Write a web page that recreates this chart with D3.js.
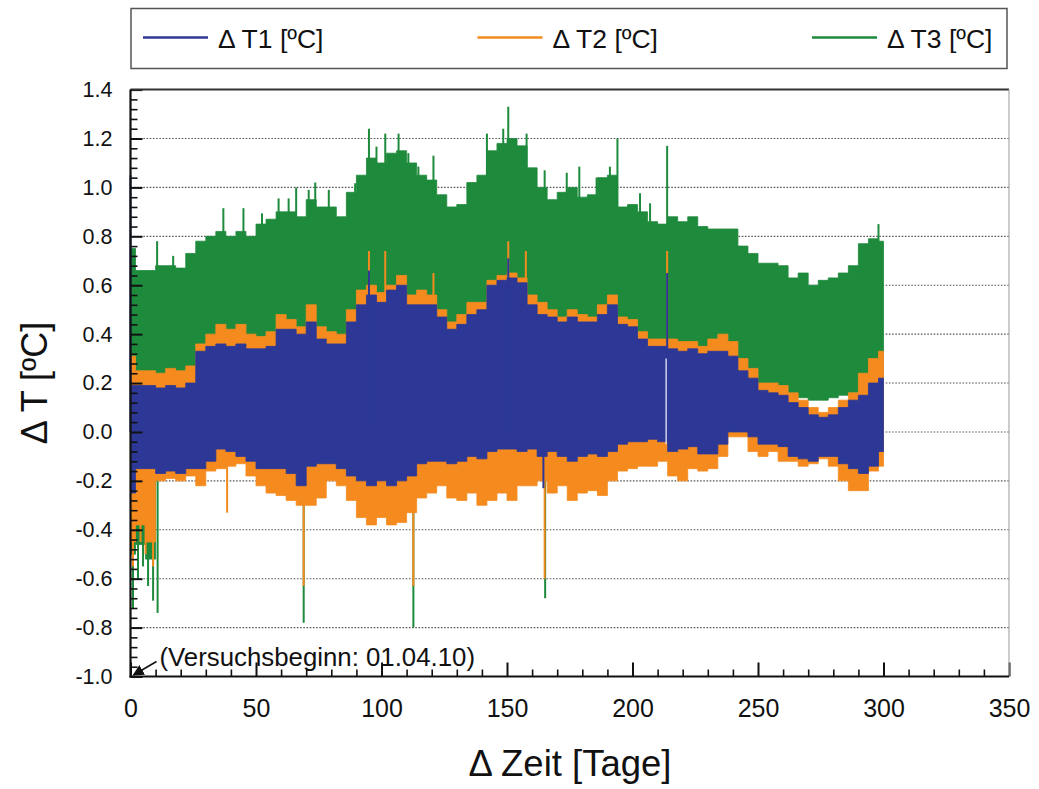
<!DOCTYPE html>
<html><head><meta charset="utf-8">
<script src="https://cdn.jsdelivr.net/npm/d3@7"></script>
<style>
body{margin:0;background:#fff}
svg{display:block}
text{font-family:"Liberation Sans",Arial,Helvetica,sans-serif;fill:#111}
</style></head>
<body><svg id="chart" width="1039" height="789"></svg>
<script>
// ---------- data ----------
const days = [0,4,8,12,16,20,24,28,32,36,40,44,48,52,56,60,64,68,72,76,80,84,88,92,96,100,104,108,112,116,120,124,128,132,136,140,144,148,152,156,160,164,168,172,176,180,184,188,192,196,200,204,208,212,216,220,224,228,232,236,240,244,248,252,256,260,264,268,272,276,280,284,288,292,296,300];

// ΔT1 band (upper / lower envelope of the dense oscillation)
const t1Hi = [0.19,0.19,0.19,0.18,0.19,0.18,0.20,0.33,0.35,0.36,0.35,0.36,0.34,0.34,0.35,0.42,0.42,0.40,0.45,0.38,0.36,0.36,0.45,0.52,0.56,0.53,0.58,0.60,0.52,0.52,0.52,0.47,0.42,0.44,0.48,0.50,0.60,0.62,0.63,0.61,0.52,0.48,0.47,0.45,0.47,0.45,0.45,0.48,0.52,0.44,0.43,0.38,0.35,0.35,0.34,0.33,0.34,0.32,0.33,0.33,0.31,0.25,0.22,0.17,0.16,0.15,0.12,0.10,0.07,0.06,0.07,0.10,0.13,0.15,0.20,0.22];
const t1Lo = [-0.25,-0.15,-0.15,-0.17,-0.16,-0.17,-0.15,-0.15,-0.12,-0.07,-0.08,-0.10,-0.12,-0.15,-0.15,-0.15,-0.17,-0.22,-0.14,-0.13,-0.13,-0.15,-0.18,-0.20,-0.22,-0.20,-0.22,-0.20,-0.18,-0.13,-0.12,-0.12,-0.13,-0.12,-0.10,-0.11,-0.08,-0.07,-0.07,-0.08,-0.07,-0.10,-0.08,-0.10,-0.12,-0.10,-0.09,-0.10,-0.08,-0.05,-0.04,-0.04,-0.03,-0.04,-0.08,-0.07,-0.06,-0.09,-0.09,-0.05,0.00,0.00,-0.02,-0.05,-0.05,-0.06,-0.10,-0.11,-0.12,-0.10,-0.10,-0.13,-0.15,-0.17,-0.14,-0.08];

// ΔT2 band
const t2Hi = [0.31,0.25,0.25,0.24,0.26,0.25,0.27,0.36,0.40,0.44,0.42,0.44,0.40,0.39,0.41,0.48,0.46,0.43,0.52,0.43,0.41,0.40,0.50,0.58,0.60,0.57,0.60,0.64,0.56,0.58,0.56,0.50,0.45,0.48,0.53,0.53,0.62,0.64,0.65,0.63,0.56,0.53,0.50,0.47,0.50,0.48,0.47,0.52,0.56,0.47,0.46,0.41,0.38,0.38,0.38,0.37,0.37,0.35,0.38,0.40,0.37,0.30,0.26,0.20,0.20,0.19,0.16,0.13,0.10,0.08,0.10,0.13,0.16,0.24,0.30,0.33];
const t2Lo = [-0.45,-0.38,-0.45,-0.20,-0.19,-0.20,-0.18,-0.22,-0.16,-0.15,-0.14,-0.13,-0.18,-0.22,-0.25,-0.26,-0.28,-0.30,-0.30,-0.27,-0.20,-0.22,-0.28,-0.35,-0.38,-0.35,-0.38,-0.37,-0.33,-0.27,-0.25,-0.22,-0.27,-0.28,-0.25,-0.30,-0.28,-0.25,-0.28,-0.22,-0.22,-0.20,-0.25,-0.22,-0.28,-0.25,-0.24,-0.26,-0.20,-0.16,-0.15,-0.14,-0.14,-0.12,-0.18,-0.20,-0.15,-0.16,-0.15,-0.10,-0.02,-0.02,-0.08,-0.10,-0.08,-0.12,-0.12,-0.14,-0.13,-0.11,-0.14,-0.20,-0.24,-0.24,-0.16,-0.14];

// ΔT3 band
const t3Hi = [0.75,0.66,0.66,0.68,0.68,0.67,0.73,0.78,0.80,0.82,0.80,0.82,0.80,0.85,0.87,0.90,0.90,0.88,0.95,0.92,0.92,0.88,0.98,1.05,1.12,1.10,1.14,1.15,1.10,1.05,1.03,0.97,0.92,0.93,1.02,1.05,1.15,1.18,1.20,1.17,1.08,1.00,0.95,0.98,1.00,0.96,0.97,1.04,1.05,0.92,0.93,0.90,0.86,0.85,0.88,0.86,0.88,0.84,0.83,0.83,0.83,0.76,0.73,0.69,0.69,0.68,0.63,0.65,0.60,0.62,0.63,0.65,0.68,0.77,0.79,0.78];
const t3Lo = [-0.50,-0.46,-0.52,0.02,0.03,0.02,0.05,0.12,0.15,0.16,0.15,0.16,0.14,0.14,0.15,0.20,0.20,0.18,0.22,0.18,0.16,0.16,0.22,0.28,0.30,0.28,0.32,0.33,0.28,0.28,0.27,0.24,0.20,0.22,0.25,0.26,0.32,0.34,0.35,0.33,0.28,0.25,0.24,0.22,0.24,0.22,0.22,0.25,0.28,0.22,0.21,0.18,0.16,0.16,0.15,0.15,0.16,0.14,0.15,0.15,0.14,0.12,0.12,0.17,0.17,0.16,0.15,0.14,0.13,0.13,0.14,0.15,0.16,0.14,0.15,0.16];

// single-sample spikes
const t3SpikeDays = [1,3,5,7,9,10.8,10.6,17,37,45,52.4,59,63,66,69,71,73.6,79,89.5,95,98,101.5,106.8,110.7,112.7,114.7,120.7,142,148.5,150.5,157.8,165,165.2,173.8,178.8,185.7,191,194,203,207,213.8,298];
const t3SpikeVals = [-0.72,-0.60,-0.55,-0.63,-0.69,-0.74,0.78,0.72,0.915,0.915,0.894,0.955,0.955,1.0,-0.78,0.99,1.02,0.99,1.017,1.24,1.167,1.22,1.22,1.14,-0.80,1.085,1.13,1.22,1.24,1.33,1.22,1.07,-0.68,1.06,1.085,1.04,1.085,1.2,0.976,0.935,1.17,0.85];
const t2SpikeDays = [1,4,6,9,38.5,69,95,101.5,112.7,120.7,150.5,157.5,165,213.8];
const t2SpikeVals = [-0.55,-0.45,-0.50,-0.55,-0.33,-0.63,0.74,0.74,-0.63,0.65,0.78,0.74,-0.60,0.74];
const t1SpikeDays = [0,95,150.5,164.5,213.8];
const t1SpikeVals = [1.05,0.66,0.71,-0.23,0.65];
// data gap inside ΔT1 band
const t1GapDay = 213.4, t1GapHi = 0.30, t1GapLo = -0.05;

const seriesNames = ["\u0394 T1 [\u00baC]","\u0394 T2 [\u00baC]","\u0394 T3 [\u00baC]"];
const seriesColors = ["#2c3796","#f58b1f","#1e8a3c"];
const yTicks = [-1.0,-0.8,-0.6,-0.4,-0.2,0.0,0.2,0.4,0.6,0.8,1.0,1.2,1.4];
const xTicks = [0,50,100,150,200,250,300,350];
const xTitle = "\u0394 Zeit [Tage]";
const yTitle = "\u0394 T [\u00baC]";
const note = "(Versuchsbeginn: 01.04.10)";

// ---------- drawing ----------
const svg = d3.select("#chart");
const L = 130.5, R = 1009, T = 89.6, B = 676.5;
const x = d3.scaleLinear().domain([0,350]).range([L,R]);
const y = d3.scaleLinear().domain([-1.0,1.4]).range([B,T]);

// gridlines
svg.append("g").selectAll("line").data(yTicks.filter(v=>v>-1 && v<1.4)).join("line")
  .attr("x1",L).attr("x2",R).attr("y1",d=>y(d)).attr("y2",d=>y(d))
  .attr("stroke","#555").attr("stroke-width",1.1).attr("stroke-dasharray","1.6,1.6");

const bands = [
  {hi:t3Hi, lo:t3Lo, sd:t3SpikeDays, sv:t3SpikeVals, base:0.3, c:seriesColors[2]},
  {hi:t2Hi, lo:t2Lo, sd:t2SpikeDays, sv:t2SpikeVals, base:0.0, c:seriesColors[1]},
  {hi:t1Hi, lo:t1Lo, sd:t1SpikeDays, sv:t1SpikeVals, base:0.0, c:seriesColors[0]}
];
const plot = svg.append("g");
bands.forEach(b=>{
  const rows = days.map((d,i)=>({d, hi:b.hi[i], lo:b.lo[i]}));
  const area = d3.area().curve(d3.curveStep)
    .x(r=>x(r.d)).y0(r=>y(r.lo)).y1(r=>y(r.hi));
  plot.append("path").datum(rows).attr("d",area).attr("fill",b.c).attr("stroke",b.c).attr("stroke-width",0.8);
  plot.append("g").selectAll("line").data(b.sd.map((d,i)=>({d,v:b.sv[i]}))).join("line")
    .attr("x1",s=>x(s.d)).attr("x2",s=>x(s.d))
    .attr("y1",y(b.base)).attr("y2",s=>y(s.v))
    .attr("stroke",b.c).attr("stroke-width",2);
});
plot.append("line").attr("x1",x(t1GapDay)).attr("x2",x(t1GapDay))
  .attr("y1",y(t1GapHi)).attr("y2",y(t1GapLo)).attr("stroke","#e8e8f4").attr("stroke-width",1.3);

// axes (inside ticks)
const fmt = d=>d.toFixed(1);
const yMinor = d3.range(-1.0,1.4001,0.04).filter(v=>Math.abs(Math.round(v*5)-v*5)>0.01);
const xMinor = d3.range(0,351,10).filter(v=>v%50!==0);

const gy = svg.append("g").attr("transform",`translate(${L},0)`)
  .call(d3.axisLeft(y).tickValues(yTicks).tickSize(-12).tickPadding(18).tickFormat(fmt));
gy.select(".domain").remove();
gy.selectAll("line").attr("stroke","#111").attr("stroke-width",2);
gy.selectAll("text").attr("font-size",21.5).attr("fill","#111").style("font-family","Liberation Sans, Arial, sans-serif");
const gym = svg.append("g").attr("transform",`translate(${L},0)`)
  .call(d3.axisLeft(y).tickValues(yMinor).tickSize(-7).tickFormat(""));
gym.select(".domain").remove();
gym.selectAll("line").attr("stroke","#111").attr("stroke-width",1.6);

const gx = svg.append("g").attr("transform",`translate(0,${B})`)
  .call(d3.axisBottom(x).tickValues(xTicks).tickSize(-14).tickPadding(23).tickFormat(d=>d));
gx.select(".domain").remove();
gx.selectAll("line").attr("stroke","#111").attr("stroke-width",2);
gx.selectAll("text").attr("font-size",25).attr("fill","#111").style("font-family","Liberation Sans, Arial, sans-serif");
const gxm = svg.append("g").attr("transform",`translate(0,${B})`)
  .call(d3.axisBottom(x).tickValues(xMinor).tickSize(-7).tickFormat(""));
gxm.select(".domain").remove();
gxm.selectAll("line").attr("stroke","#111").attr("stroke-width",1.6);

// frame
svg.append("line").attr("x1",L).attr("x2",R).attr("y1",T).attr("y2",T).attr("stroke","#333").attr("stroke-width",2);
svg.append("line").attr("x1",R).attr("x2",R).attr("y1",T).attr("y2",B).attr("stroke","#aaa").attr("stroke-width",1.2);
svg.append("line").attr("x1",L).attr("x2",L).attr("y1",T).attr("y2",B+1).attr("stroke","#111").attr("stroke-width",2.2);
svg.append("line").attr("x1",L-1).attr("x2",R).attr("y1",B).attr("y2",B).attr("stroke","#111").attr("stroke-width",2.2);

// annotation with arrow
svg.append("defs").append("marker").attr("id","ah").attr("viewBox","0 0 10 10")
  .attr("refX",9).attr("refY",5).attr("markerWidth",7).attr("markerHeight",7).attr("orient","auto")
  .append("path").attr("d","M0,0 L10,5 L0,10 z").attr("fill","#111");
svg.append("line").attr("x1",x(0)+26).attr("x2",x(0)+3).attr("y1",y(-1.0)-15).attr("y2",y(-1.0)-1.5)
  .attr("stroke","#111").attr("stroke-width",1.6).attr("marker-end","url(#ah)");
svg.append("text").attr("x",x(0)+29).attr("y",y(-1.0)-10.5).attr("font-size",25.8).text(note);

// axis titles
svg.append("text").attr("x",570).attr("y",776).attr("text-anchor","middle").attr("font-size",36.5).text(xTitle);
svg.append("text").attr("transform","translate(47,383) rotate(-90)").attr("text-anchor","middle").attr("font-size",36).text(yTitle);

// legend
const lg = svg.append("g");
lg.append("rect").attr("x",131).attr("y",8.5).attr("width",876).attr("height",60)
  .attr("fill","#fff").attr("stroke","#555").attr("stroke-width",1.5);
const order = [0,1,2];
order.forEach((k,i)=>{
  const x0 = 143 + i*334.5;
  lg.append("line").attr("x1",x0).attr("x2",x0+65).attr("y1",37.5).attr("y2",37.5)
    .attr("stroke",seriesColors[k]).attr("stroke-width",2.5);
  lg.append("text").attr("x",x0+75).attr("y",48).attr("font-size",26.5).text(seriesNames[k]);
});
</script>
</body></html>
